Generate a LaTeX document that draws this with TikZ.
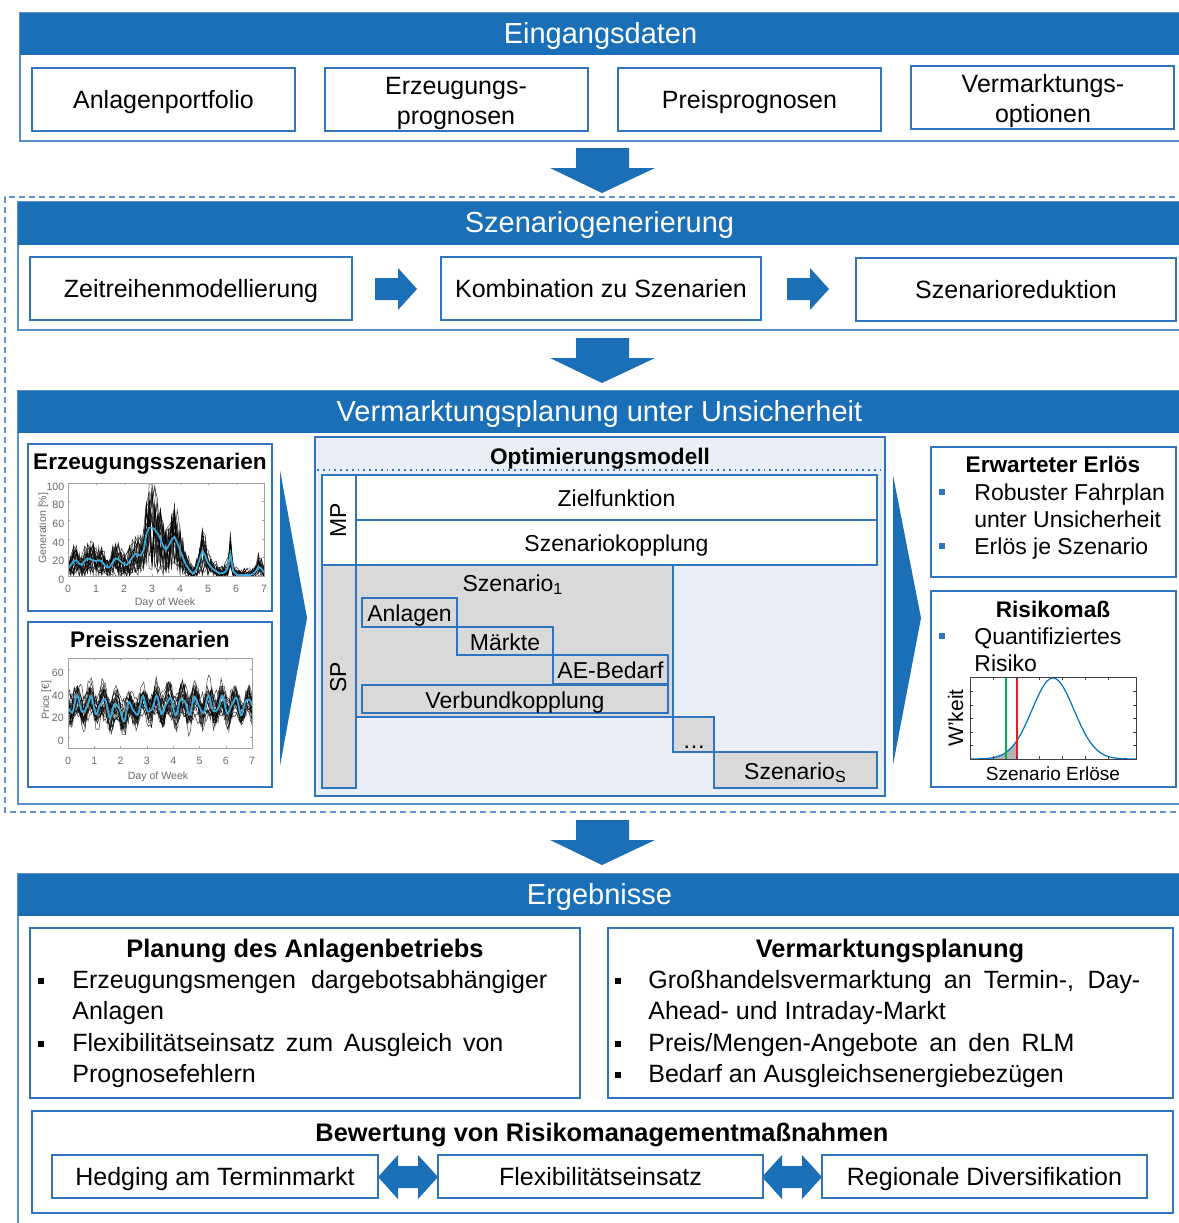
\documentclass[tikz,border=0pt]{standalone}
\usepackage{fontspec}
\setmainfont{Liberation Sans}

\definecolor{hblue}{RGB}{26,111,182}
\definecolor{frameblue}{RGB}{88,144,206}
\definecolor{boxblue}{RGB}{46,117,190}
\definecolor{dashblue}{RGB}{96,146,204}
\definecolor{optfill}{RGB}{234,239,247}
\definecolor{cellgray}{RGB}{217,217,217}
\definecolor{meanblue}{RGB}{62,170,220}
\definecolor{axisgray}{RGB}{160,160,160}
\definecolor{labelgray}{RGB}{105,105,105}
\definecolor{pdfblue}{RGB}{0,114,189}
\definecolor{cvargreen}{RGB}{0,176,80}
\definecolor{varred}{RGB}{230,30,30}

\newcommand{\fsz}[2]{\fontsize{#1}{#2}\selectfont}
% mean generation profile in %, one value every 0.1 day from day 0.1 to day 7
\def\genmean{12,16,17,13,12,16,19,18,17,16,17,16,12,9,10,15,19,18,15,13,12,16,20,24,23,22,28,45,52,52,50,46,40,32,28,33,39,42,36,28,20,13,8,4,3,8,18,27,22,14,10,7,5,3,3,4,8,24,5,2,1,1,1,1,1,2,5,10,8,4}

\begin{document}
\begin{tikzpicture}[x=0.5pt,y=-0.5pt,
  % place a rectangle node by its corners: left/top/right/bottom
  corners/.code args={#1/#2/#3/#4}{%
    \pgfmathsetmacro\cornw{(#3-#1)*0.5}%
    \pgfmathsetmacro\cornh{(#4-#2)*0.5}%
    \pgfmathsetmacro\cornx{(#1+#3)/2}%
    \pgfmathsetmacro\corny{(#2+#4)/2}%
    \edef\corndo{\noexpand\pgfkeysalso{/tikz/at={(\cornx,\corny)},/tikz/minimum width=\cornw pt,/tikz/minimum height=\cornh pt}}%
    \corndo},
  txt/.style={inner sep=0pt,text height=0.72em,text depth=0pt},
  btxt/.style={inner sep=0pt,text height=0.9em,text depth=0pt},
  header/.style={fill=hblue,text=white,inner sep=0pt,font=\fsz{14.5}{17},text height=0.9em,text depth=0pt},
  frame/.style={draw=frameblue,line width=1pt,inner sep=0pt},
  box/.style={draw=boxblue,line width=0.8pt,fill=white,inner sep=0pt,font=\fsz{12.5}{15}},
  twoline/.style={inner sep=0pt,font=\fsz{12.5}{15},align=center},
  cell/.style={draw=boxblue,line width=0.6pt,inner sep=0pt,font=\fsz{11.5}{14}},
  grayc/.style={cell,fill=cellgray},
  whitec/.style={cell,fill=white},
  bodytxt/.style={txt,font=\fsz{12.5}{15},anchor=west},
  sidetxt/.style={txt,font=\fsz{11.5}{14},anchor=west},
  boldtitle/.style={txt,font=\fsz{11.3}{14}\bfseries},
  restitle/.style={txt,font=\fsz{12.7}{15}\bfseries},
  sqblk/.style={fill=black,inner sep=0pt,minimum size=3.4pt},
  sqblue/.style={fill=boxblue,inner sep=0pt,minimum size=3pt},
  ticklbl/.style={txt,font=\fsz{5.3}{6},text=labelgray},
  axis/.style={draw=axisgray,line width=0.3pt},
  genscen/.style={black,line width=0.25pt,opacity=0.75},
  meanline/.style={meanblue,line width=0.9pt},
  downarr/.pic={\fill[hblue] (-26,0) -- (27,0) -- (27,20) -- (53,20) -- (0,45) -- (-52,20) -- (-26,20) -- cycle;},
  rightarr/.pic={\fill[hblue] (0,-11) -- (23,-11) -- (23,-21) -- (42,0) -- (23,21) -- (23,11) -- (0,11) -- cycle;},
  dblarr/.pic={\fill[hblue] (-30,0) -- (-10,-22) -- (-10,-11) -- (10,-11) -- (10,-22) -- (30,0) -- (10,22) -- (10,11) -- (-10,11) -- (-10,22) -- cycle;},
]
\useasboundingbox (0,0) rectangle (1179,1223);
\fill[white] (0,0) rectangle (1179,1223);
\pgfmathsetseed{42}

% ---------------- Eingangsdaten ----------------
\node[frame,corners=20/13/1195/141] (f1) {};
\node[header,corners=20/13/1181/55] (h1) {Eingangsdaten};
\node[box,btxt,corners=32/68/295/131] (anl) {Anlagenportfolio};
\node[box,corners=325/68/588/131] (erz) {};
\node[twoline] (erzt) at (456,103.5) {Erzeugungs-\\prognosen};
\node[box,btxt,corners=618/68/881/131] (pre) {Preisprognosen};
\node[box,corners=911/66/1174/129] (vmo) {};
\node[twoline] (vmot) at (1043,101) {Vermarktungs-\\optionen};

\pic at (602,148) {downarr};

% dashed region around scenario generation and planning
\draw[dashblue,line width=0.75pt,dash pattern=on 3pt off 2pt] (1195,197) -- (5,197) -- (5,812) -- (1195,812);

% ---------------- Szenariogenerierung ----------------
\node[frame,corners=18/202/1195/330] (f2) {};
\node[header,corners=18/202/1181/245] (h2) {Szenariogenerierung};
\node[box,btxt,corners=30/257/352/320] (zrm) {Zeitreihenmodellierung};
\node[box,btxt,corners=441/257/761/320] (kzs) {Kombination zu Szenarien};
\node[box,btxt,corners=856/258/1176/321] (szr) {Szenarioreduktion};
\pic at (375,289) {rightarr};
\pic at (787,289) {rightarr};

\pic at (602,338) {downarr};

% ---------------- Vermarktungsplanung ----------------
\node[frame,corners=18/391/1195/804] (f3) {};
\node[header,corners=18/391/1181/433] (h3) {Vermarktungsplanung unter Unsicherheit};

% generation scenarios
\node[box,corners=28/444/272/611] (gbox) {};
\node[boldtitle] (gtitle) at (150,462) {Erzeugungsszenarien};
\begin{scope}[shift={(68,576)},x=14pt,y=0.465pt]
  \begin{scope}
    \clip (0,0) rectangle (7,100);
    \foreach \s in {1,...,22}{
      \draw[genscen] (0,{max(0,8+6*rand)}) \foreach \v [count=\i] in \genmean { -- ({\i/10},{max(0,min(100,\v*(1+0.85*rand)+7*rand))}) };
    }
    \draw[meanline] (0,8) \foreach \v [count=\i] in \genmean { -- ({\i/10},\v) };
  \end{scope}
  \draw[axis] (0,0) rectangle (7,100);
  \foreach \d in {0,...,7}{
    \draw[axis] (\d,0) -- ++(0,2.5) (\d,100) -- ++(0,-2.5);
    \node[ticklbl] (gx\d) at (\d,-10) {\d};
  }
  \foreach \v in {0,20,...,100}{
    \draw[axis] (0,\v) -- ++(0.08,0) (7,\v) -- ++(-0.08,0);
    \node[ticklbl,anchor=east] (gy\v) at (-0.12,\v) {\v};
  }
\end{scope}
\node[ticklbl] (gxl) at (165,598) {Day of Week};
\node[ticklbl,rotate=90] (gyl) at (39,528) {Generation [\%]};

% price scenarios
\node[box,corners=28/622/272/787] (pbox) {};
\node[boldtitle] (ptitle) at (150,640) {Preisszenarien};
\begin{scope}[shift={(68,737)},x=13.15pt,y=0.565pt]
  \begin{scope}
    \clip (0,-10) rectangle (7,70);
    \foreach \s in {1,...,22}{
      \pgfmathsetmacro\po{6*rand}
      \pgfmathsetmacro\pa{1+0.6*rand}
      \pgfmathsetmacro\pb{150+60*rand}
      \pgfmathsetmacro\pc{180*rand}
      \draw[genscen] plot[domain=0:7,samples=120] (\x,{28+\po-6*exp(-(((\x-2.1)/0.5)^2))+7*\pa*cos(720*(\x-0.35))+8*sin(\pb*\x+\pc)+6*rand});
    }
    \draw[meanline] plot[domain=0:7,samples=200] (\x,{28-6*exp(-(((\x-2.1)/0.5)^2))+7*cos(720*(\x-0.35))+2*sin(1300*\x)});
  \end{scope}
  \draw[axis] (0,-10) rectangle (7,70);
  \foreach \d in {0,...,7}{
    \draw[axis] (\d,-10) -- ++(0,2) (\d,70) -- ++(0,-2);
    \node[ticklbl] (px\d) at (\d,-18) {\d};
  }
  \foreach \v in {0,20,40,60}{
    \draw[axis] (0,\v) -- ++(0.08,0) (7,\v) -- ++(-0.08,0);
    \node[ticklbl,anchor=east] (py\v) at (-0.15,\v) {\v};
  }
\end{scope}
\node[ticklbl] (pxl) at (158,772) {Day of Week};
\node[ticklbl,rotate=90] (pyl) at (42,700) {Price [€]};

% flow chevrons into and out of the model
\fill[hblue] (280,470) -- (307,618) -- (280,766) -- cycle;
\fill[hblue] (893,475) -- (921,618) -- (893,765) -- cycle;

% optimisation model
\node[draw=boxblue,line width=1.2pt,fill=optfill,inner sep=0pt,corners=315/437/885/796] (opt) {};
\node[boldtitle] (optt) at (600,457) {Optimierungsmodell};
\draw[boxblue,line width=0.9pt,dotted] (317,470) -- (883,470);
\node[whitec,corners=322/475/356/565] (mp) {};
\node[txt,rotate=90,font=\fsz{11.5}{14}] (mpl) at (339,520) {MP};
\node[whitec,btxt,corners=356/475/877/520] (zf) {Zielfunktion};
\node[whitec,btxt,corners=356/520/877/565] (sk) {Szenariokopplung};
\node[grayc,corners=322/565/356/788] (sp) {};
\node[txt,rotate=90,font=\fsz{11.5}{14}] (spl) at (339,677) {SP};
\node[grayc,corners=356/565/673/717] (s1) {};
\node[txt,font=\fsz{11.5}{14}] (s1l) at (513,584) {Szenario\textsubscript{1}};
\node[grayc,btxt,corners=362/598/457/627] (anl2) {Anlagen};
\node[grayc,btxt,corners=457/627/553/655] (mkt) {Märkte};
\node[grayc,btxt,corners=553/655/668/684] (aeb) {AE-Bedarf};
\node[grayc,btxt,corners=362/685/668/713] (vbk) {Verbundkopplung};
\node[grayc,corners=673/717/714/752] (dts) {};
\node[txt,font=\fsz{11.5}{14}] (dtsl) at (694,741) {\dots};
\node[grayc,btxt,corners=714/752/877/788] (ss) {Szenario\textsubscript{S}};

% expected revenue
\node[box,corners=931/447/1176/577] (eebox) {};
\node[boldtitle] (eetitle) at (1053,465) {Erwarteter Erlös};
\node[sqblue] (eb1) at (942,492) {};
\node[sidetxt] (ee1) at (974,493) {Robuster Fahrplan};
\node[sidetxt] (ee2) at (974,520) {unter Unsicherheit};
\node[sqblue] (eb2) at (942,546) {};
\node[sidetxt] (ee3) at (974,547) {Erlös je Szenario};

% risk measure
\node[box,corners=931/591/1176/787] (rmbox) {};
\node[boldtitle] (rmtitle) at (1053,610) {Risikomaß};
\node[sqblue] (rb1) at (942,636) {};
\node[sidetxt] (rm1) at (974,637) {Quantifiziertes};
\node[sidetxt] (rm2) at (974,664) {Risiko};
\fill[gray!60] (970,759) -- plot[domain=970:1017,samples=30] (\x,{759-81*exp(-((\x-1053)^2)/882)}) -- (1017,759) -- cycle;
\draw[pdfblue,line width=0.6pt] plot[domain=970:1136,samples=100] (\x,{759-81*exp(-((\x-1053)^2)/882)});
\draw[cvargreen,line width=0.6pt] (1006,677) -- (1006,759);
\draw[varred,line width=0.6pt] (1017,677) -- (1017,759);
\draw[black!75,line width=0.4pt] (970,677) rectangle (1136,759);
\foreach \t in {993,1016,1039,1062,1085,1108}{
  \draw[black!75,line width=0.3pt] (\t,759) -- ++(0,-3) (\t,677) -- ++(0,3);
}
\foreach \t in {691,705,718,732,745}{
  \draw[black!75,line width=0.3pt] (970,\t) -- ++(3,0) (1136,\t) -- ++(-3,0);
}
\node[txt,rotate=90,font=\fsz{10.5}{12}] (wk) at (956,718) {W'keit};
\node[txt,font=\fsz{9.5}{11}] (ser) at (1053,773) {Szenario Erlöse};

\pic at (602,820) {downarr};

% ---------------- Ergebnisse ----------------
\node[frame,corners=18/874/1195/1240] (f4) {};
\node[header,corners=18/874/1181/916] (h4) {Ergebnisse};

\node[box,corners=30/928/580/1098] (pab) {};
\node[restitle] (pabt) at (305,950) {Planung des Anlagenbetriebs};
\node[sqblk] (b1) at (41,981) {};
\node[bodytxt] (l1) at (72,981) {\makebox[237.5pt][s]{Erzeugungsmengen dargebotsabhängiger}};
\node[bodytxt] (l2) at (72,1012) {Anlagen};
\node[sqblk] (b2) at (41,1044) {};
\node[bodytxt] (l3) at (72,1044) {\makebox[215.5pt][s]{Flexibilitätseinsatz zum Ausgleich von}};
\node[bodytxt] (l4) at (72,1075) {Prognosefehlern};

\node[box,corners=608/928/1173/1098] (vmp) {};
\node[restitle] (vmpt) at (890,950) {Vermarktungsplanung};
\node[sqblk] (b3) at (618,981) {};
\node[bodytxt] (r1) at (648,981) {\makebox[246pt][s]{Großhandelsvermarktung an Termin-, Day-}};
\node[bodytxt] (r2) at (648,1012) {Ahead- und Intraday-Markt};
\node[sqblk] (b4) at (618,1044) {};
\node[bodytxt] (r3) at (648,1044) {\makebox[213pt][s]{Preis/Mengen-Angebote an den RLM}};
\node[sqblk] (b5) at (618,1075) {};
\node[bodytxt] (r4) at (648,1075) {Bedarf an Ausgleichsenergiebezügen};

\node[box,corners=32/1111/1173/1213] (bew) {};
\node[restitle] (bewt) at (602,1134) {Bewertung von Risikomanagementmaßnahmen};
\pic at (408,1177) {dblarr};
\pic at (792,1177) {dblarr};
\node[box,btxt,corners=52/1155/378/1198] (hed) {Hedging am Terminmarkt};
\node[box,btxt,corners=438/1155/763/1198] (flx) {Flexibilitätseinsatz};
\node[box,btxt,corners=822/1155/1147/1198] (reg) {Regionale Diversifikation};
\end{tikzpicture}
\end{document}
